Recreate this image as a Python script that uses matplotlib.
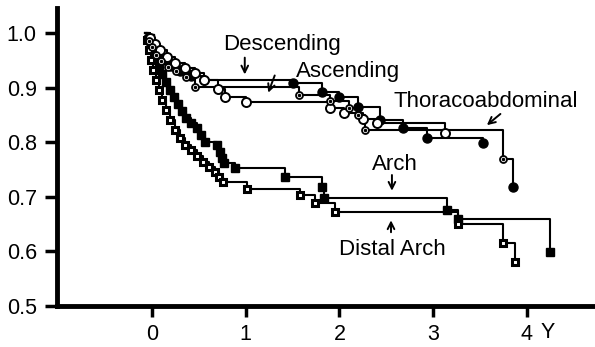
import matplotlib.pyplot as plt

plt.rcParams['font.family'] = ['Liberation Sans', 'DejaVu Sans']

# Kaplan-Meier style survival curves (years, survival fraction)
desc_t = [-0.07, -0.04, -0.01, 0.02, 0.06, 0.12, 0.20, 0.30, 0.42, 0.55,
          1.50, 1.81, 2.00, 2.20, 2.43, 2.68, 2.93, 3.53]
desc_s = [1.00, 0.990, 0.980, 0.970, 0.960, 0.950, 0.940, 0.930, 0.922, 0.914,
          0.908, 0.892, 0.883, 0.865, 0.841, 0.826, 0.808, 0.799]

asc_t = [-0.07, -0.02, 0.03, 0.09, 0.16, 0.25, 0.35, 0.46, 0.55, 0.70, 0.78,
         1.00, 1.90, 2.05, 2.25, 2.40, 3.13]
asc_s = [1.00, 0.990, 0.980, 0.968, 0.956, 0.945, 0.936, 0.927, 0.914, 0.897,
         0.883, 0.874, 0.862, 0.853, 0.843, 0.835, 0.817]

thor_t = [-0.07, -0.03, 0.00, 0.04, 0.10, 0.17, 0.26, 0.36, 0.46,
          1.57, 1.90, 2.10, 2.20, 2.27, 3.74, 3.85]
thor_s = [1.00, 0.985, 0.975, 0.960, 0.948, 0.938, 0.930, 0.920, 0.901,
          0.886, 0.875, 0.862, 0.850, 0.822, 0.769, 0.718]

arch_t = [-0.05, -0.02, 0.01, 0.04, 0.075, 0.107, 0.15, 0.19, 0.235, 0.277,
          0.32, 0.363, 0.416, 0.48, 0.523, 0.565, 0.693, 0.725, 0.747, 0.768,
          0.885, 1.419, 1.813, 1.835, 3.147, 3.264, 4.245]
arch_s = [1.00, 0.991, 0.973, 0.954, 0.940, 0.925, 0.910, 0.896, 0.883, 0.870,
          0.857, 0.844, 0.835, 0.826, 0.813, 0.800, 0.795, 0.782, 0.771, 0.762,
          0.753, 0.736, 0.718, 0.698, 0.676, 0.659, 0.599]

dist_t = [-0.07, -0.05, -0.03, -0.01, 0.01, 0.04, 0.075, 0.107, 0.15, 0.19,
          0.245, 0.30, 0.35, 0.416, 0.48, 0.544, 0.608, 0.672, 0.715, 0.757,
          1.013, 1.579, 1.739, 1.952, 3.264, 3.744, 3.872]
dist_s = [1.00, 0.987, 0.969, 0.951, 0.932, 0.914, 0.896, 0.877, 0.859, 0.841,
          0.822, 0.808, 0.795, 0.786, 0.775, 0.764, 0.755, 0.745, 0.736, 0.727,
          0.714, 0.703, 0.689, 0.672, 0.650, 0.615, 0.581]

x_ticks = [0, 1, 2, 3, 4]
y_ticks = [0.5, 0.6, 0.7, 0.8, 0.9, 1.0]

fig = plt.figure(figsize=(5.95, 3.47), dpi=100)
ax = fig.add_axes([0.0958, 0.1182, 0.904, 0.859])

# step lines
for t, s in [(desc_t, desc_s), (asc_t, asc_s), (thor_t, thor_s),
             (arch_t, arch_s), (dist_t, dist_s)]:
    ax.step(t, s, where='post', color='black', lw=1.5, zorder=2)

# event markers
ax.plot(arch_t[1:], arch_s[1:], 's', ms=6, color='black', zorder=3)
ax.plot(dist_t[1:], dist_s[1:], 's', ms=5, mfc='white', mec='black', mew=2.2, zorder=4)
ax.plot(desc_t[1:], desc_s[1:], 'o', ms=6.5, color='black', zorder=3)
ax.plot(asc_t[1:], asc_s[1:], 'o', ms=6.5, mfc='white', mec='black', mew=1.4, zorder=4)
ax.plot(thor_t[1:-1], thor_s[1:-1], 'o', ms=5, mfc='white', mec='black', mew=1.3, zorder=5)
ax.plot(thor_t[1:-1], thor_s[1:-1], 'o', ms=1.5, color='black', zorder=6)
ax.plot(thor_t[-1], thor_s[-1], 'o', ms=6.5, color='black', zorder=5)

# labels with arrows
fs = 16
arrow = dict(arrowstyle='->', color='black', lw=1.4, mutation_scale=12)
ax.text(1.39, 0.969, 'Descending', ha='center', va='baseline', fontsize=fs)
ax.annotate('', xy=(0.99, 0.919), xytext=(0.99, 0.960), arrowprops=arrow)
ax.text(2.09, 0.919, 'Ascending', ha='center', va='baseline', fontsize=fs)
ax.annotate('', xy=(1.23, 0.886), xytext=(1.32, 0.927), arrowprops=arrow)
ax.text(3.56, 0.864, 'Thoracoabdominal', ha='center', va='baseline', fontsize=fs)
ax.annotate('', xy=(3.55, 0.828), xytext=(3.74, 0.855), arrowprops=arrow)
ax.text(2.59, 0.749, 'Arch', ha='center', va='baseline', fontsize=fs)
ax.annotate('', xy=(2.56, 0.706), xytext=(2.56, 0.745), arrowprops=arrow)
ax.text(2.57, 0.593, 'Distal Arch', ha='center', va='baseline', fontsize=fs)
ax.annotate('', xy=(2.55, 0.662), xytext=(2.55, 0.630), arrowprops=arrow)

ax.text(4.22, -0.09, 'Y', transform=ax.get_xaxis_transform(),
        ha='center', va='center', fontsize=15.5)

ax.set_xlim(-1.013, 4.725)
ax.set_ylim(0.5, 1.046)
ax.set_xticks(x_ticks)
ax.set_xticklabels([str(v) for v in x_ticks])
ax.set_yticks(y_ticks)
ax.set_yticklabels([f'{v:.1f}' for v in y_ticks])

for side in ['top', 'right']:
    ax.spines[side].set_visible(False)
for side in ['left', 'bottom']:
    ax.spines[side].set_linewidth(3.5)

ax.tick_params(axis='x', direction='out', length=8, width=2.5, pad=5, labelsize=15.5)
ax.tick_params(axis='y', direction='out', length=8.5, width=2.5, pad=6, labelsize=15.5)

fig.savefig('out.png', dpi=100)
